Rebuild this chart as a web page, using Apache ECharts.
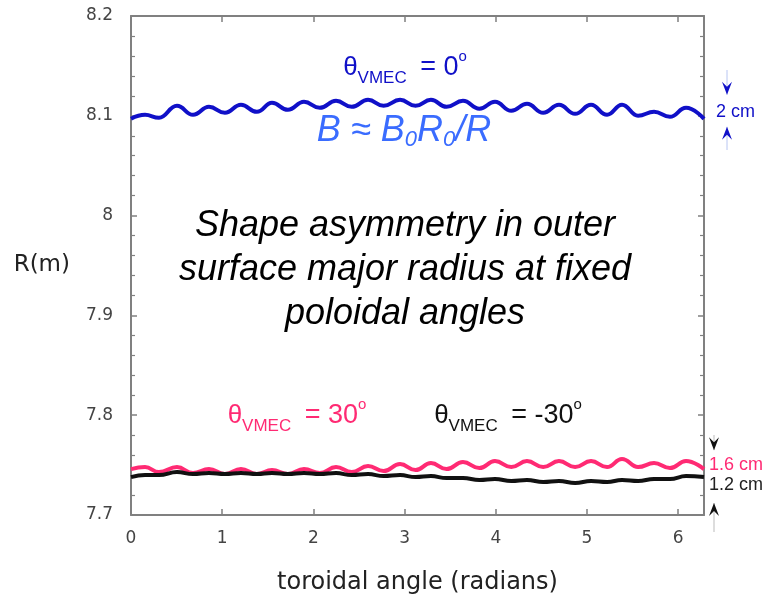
<!DOCTYPE html>
<html>
<head>
<meta charset="utf-8">
<script src="https://cdn.jsdelivr.net/npm/echarts@6/dist/echarts.min.js"></script>
<style>
  html, body { margin: 0; padding: 0; background: #fff; }
  #chart { width: 771px; height: 600px; }
</style>
</head>
<body>
<div id="chart"></div>
<script>
// Toroidal angle samples (radians) at the ripple crests / troughs
const angles = [0, 0.154, 0.307, 0.504, 0.68, 0.855, 1.03, 1.206, 1.38, 1.546, 1.72, 1.897,
  2.07, 2.248, 2.42, 2.599, 2.77, 2.95, 3.12, 3.289, 3.46, 3.64, 3.82, 3.991, 4.17, 4.342,
  4.52, 4.693, 4.87, 5.044, 5.22, 5.384, 5.56, 5.735, 5.91, 6.086, 6.283];

// Outer surface major radius R (m) at theta_VMEC = 0
const rTheta0 = [8.097, 8.101, 8.098, 8.110, 8.101, 8.109, 8.103, 8.111, 8.104, 8.113, 8.106, 8.114,
  8.108, 8.115, 8.109, 8.116, 8.110, 8.116, 8.110, 8.116, 8.109, 8.115, 8.107, 8.114, 8.105, 8.112,
  8.103, 8.111, 8.102, 8.111, 8.101, 8.111, 8.100, 8.104, 8.099, 8.108, 8.097];

// theta_VMEC = 30 deg
const rTheta30 = [7.746, 7.748, 7.743, 7.748, 7.742, 7.746, 7.741, 7.746, 7.741, 7.745, 7.741, 7.746,
  7.742, 7.748, 7.743, 7.749, 7.744, 7.751, 7.745, 7.752, 7.746, 7.753, 7.747, 7.754, 7.748, 7.754,
  7.748, 7.754, 7.748, 7.754, 7.748, 7.756, 7.748, 7.752, 7.747, 7.754, 7.746];

// theta_VMEC = -30 deg
const rThetaM30 = [7.738, 7.740, 7.740, 7.743, 7.741, 7.742, 7.741, 7.742, 7.741, 7.742, 7.741, 7.742,
  7.741, 7.742, 7.740, 7.741, 7.739, 7.740, 7.738, 7.739, 7.737, 7.737, 7.735, 7.736, 7.734, 7.735,
  7.733, 7.734, 7.732, 7.734, 7.733, 7.735, 7.734, 7.736, 7.736, 7.739, 7.738];

const xTickLabels = ['0', '1', '2', '3', '4', '5', '6'];
const yMin = 7.7, yMax = 8.2, yStep = 0.1;
const xMax = 6.283;

const COL_BLUE = '#1010c8';
const COL_LIGHTBLUE = '#3a6cff';
const COL_PINK = '#ff2a73';
const COL_BLACK = '#111111';
const FRAME = '#808080';
const TICK_FONT = 'DejaVu Sans';
const NARROW = '"Liberation Sans Narrow", "Liberation Sans", Arial, sans-serif';
const SANS = '"Liberation Sans", Arial, sans-serif';

function pairs(xs, ys) { return xs.map((x, i) => [x, ys[i]]); }

const chart = echarts.init(document.getElementById('chart'), null, { renderer: 'canvas' });

const tickStyle = { show: true, inside: true, length: 6, lineStyle: { color: FRAME, width: 1.5 } };
const minorStyle = { show: true, splitNumber: 5, length: 4, lineStyle: { color: FRAME, width: 1.2 } };

const lineSeries = (name, data, color) => ({
  name, type: 'line', data, smooth: 0.45, smoothMonotone: 'x', symbol: 'none',
  lineStyle: { color, width: 4 }, z: 3
});

chart.setOption({
  animation: false,
  backgroundColor: '#ffffff',
  grid: { left: 131, right: 67, top: 16, bottom: 85, show: false, outerBoundsMode: 'none', containLabel: false },
  xAxis: [{
    type: 'value', min: 0, max: xMax, interval: 1, position: 'bottom',
    axisLine: { show: true, onZero: false, lineStyle: { color: FRAME, width: 2 } },
    axisTick: tickStyle,
    splitLine: { show: false },
    axisLabel: {
      show: true, showMaxLabel: false, margin: 15, color: '#444', fontFamily: TICK_FONT, fontSize: 17,
      formatter: v => xTickLabels[Math.round(v)] || ''
    },
    name: 'toroidal angle (radians)', nameLocation: 'middle', nameGap: 56,
    nameTextStyle: { color: '#222', fontFamily: TICK_FONT, fontSize: 24 }
  }, {
    type: 'value', min: 0, max: xMax, interval: 1, position: 'top',
    axisLine: { show: true, onZero: false, lineStyle: { color: FRAME, width: 2 } },
    axisTick: tickStyle, axisLabel: { show: false }, splitLine: { show: false }
  }],
  yAxis: [{
    type: 'value', min: yMin, max: yMax, interval: yStep, position: 'left',
    axisLine: { show: true, onZero: false, lineStyle: { color: FRAME, width: 2 } },
    axisTick: tickStyle, minorTick: minorStyle,
    splitLine: { show: false }, minorSplitLine: { show: false },
    axisLabel: {
      margin: 18, color: '#444', fontFamily: TICK_FONT, fontSize: 17,
      formatter: v => String(+v.toFixed(1))
    },
    name: 'R(m)', nameLocation: 'middle', nameGap: 61, nameRotate: 0,
    nameTextStyle: { color: '#222', fontFamily: TICK_FONT, fontSize: 23 }
  }, {
    type: 'value', min: yMin, max: yMax, interval: yStep, position: 'right',
    axisLine: { show: true, onZero: false, lineStyle: { color: FRAME, width: 2 } },
    axisTick: tickStyle, minorTick: minorStyle,
    axisLabel: { show: false }, splitLine: { show: false }
  }],
  series: [
    lineSeries('theta0', pairs(angles, rTheta0), COL_BLUE),
    lineSeries('theta30', pairs(angles, rTheta30), COL_PINK),
    lineSeries('thetaM30', pairs(angles, rThetaM30), COL_BLACK)
  ]
});

// Theta label: big theta, "VMEC" subscript, "= N" and raised degree "o"
function thetaLabel(cx, cy, value, color) {
  return {
    type: 'text', x: cx, y: cy, z: 10,
    style: {
      text: '{t|θ}{s|VMEC}{e| = ' + value + '}{d|o}',
      align: 'center', verticalAlign: 'middle', fill: color,
      rich: {
        t: { fontFamily: NARROW, fontSize: 26, lineHeight: 38, fill: color },
        s: { fontFamily: NARROW, fontSize: 17, lineHeight: 6, verticalAlign: 'bottom', fill: color, padding: [0, 6, 0, 0] },
        e: { fontFamily: NARROW, fontSize: 27, lineHeight: 38, fill: color },
        d: { fontFamily: NARROW, fontSize: 15, lineHeight: 12, verticalAlign: 'top', fill: color }
      }
    }
  };
}

// Range arrows at the right of the frame
function arrowHead(x, tipY, dir, color) {
  const h = 13, w = 5, notch = 5;
  const b = tipY - dir * h;
  return {
    type: 'polygon', z: 10,
    shape: { points: [[x, tipY], [x - w, b], [x, b + dir * notch], [x + w, b]] },
    style: { fill: color }
  };
}

function rangeMarker(x, yTop, yBot, color, lineColor, yLineTop, yLineBot) {
  return [
    { type: 'line', z: 9, shape: { x1: x, y1: yLineTop, x2: x, y2: yTop }, style: { stroke: lineColor, lineWidth: 1 } },
    { type: 'line', z: 9, shape: { x1: x, y1: yBot, x2: x, y2: yLineBot }, style: { stroke: lineColor, lineWidth: 1 } },
    arrowHead(x, yTop, 1, color),
    arrowHead(x, yBot, -1, color)
  ];
}

const px = (xv, yv) => chart.convertToPixel({ gridIndex: 0 }, [xv, yv]);
const blueTop = px(xMax, 8.121)[1], blueBot = px(xMax, 8.089)[1];
const lowTop = px(xMax, 7.765)[1], lowBot = px(xMax, 7.712)[1];

const graphics = [
  thetaLabel(405, 68, '0', COL_BLUE),
  thetaLabel(297, 416, '30', COL_PINK),
  thetaLabel(508, 416, '-30', COL_BLACK),
  {
    type: 'text', x: 404, y: 131, z: 10,
    style: {
      text: '{a|B ≈ B}{s|0}{a|R}{s|0}{a|/R}',
      align: 'center', verticalAlign: 'middle', fill: COL_LIGHTBLUE,
      rich: {
        a: { fontFamily: SANS, fontStyle: 'italic', fontSize: 36, lineHeight: 40, fill: COL_LIGHTBLUE },
        s: { fontFamily: SANS, fontStyle: 'italic', fontSize: 22, lineHeight: 8, verticalAlign: 'bottom', fill: COL_LIGHTBLUE }
      }
    }
  },
  {
    type: 'text', x: 405, y: 270, z: 10,
    style: {
      text: 'Shape asymmetry in outer\nsurface major radius at fixed\npoloidal angles',
      align: 'center', verticalAlign: 'middle', fill: '#000',
      font: 'italic 36px "Liberation Sans", Arial, sans-serif', lineHeight: 44
    }
  },
  {
    type: 'text', x: 716, y: 112, z: 10,
    style: { text: '2 cm', fill: COL_BLUE, font: '18px "Liberation Sans", Arial, sans-serif', verticalAlign: 'middle' }
  },
  {
    type: 'text', x: 709, y: 465, z: 10,
    style: { text: '1.6 cm', fill: COL_PINK, font: '18px "Liberation Sans", Arial, sans-serif', verticalAlign: 'middle' }
  },
  {
    type: 'text', x: 709, y: 485, z: 10,
    style: { text: '1.2 cm', fill: '#222', font: '18px "Liberation Sans", Arial, sans-serif', verticalAlign: 'middle' }
  }
].concat(
  rangeMarker(727, blueTop, blueBot, COL_BLUE, '#b8c6f2', 70, 150),
  rangeMarker(714, lowTop, lowBot, '#111', '#bbbbbb', 435, 532)
);

chart.setOption({ graphic: graphics });
</script>
</body>
</html>
